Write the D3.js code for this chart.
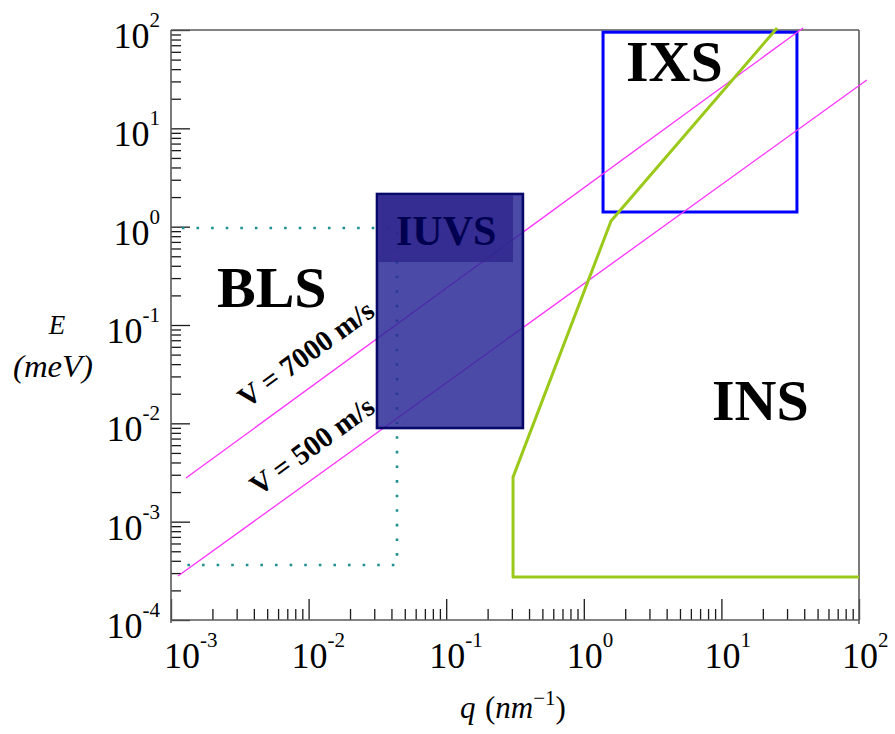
<!DOCTYPE html>
<html>
<head>
<meta charset="utf-8">
<script src="https://cdn.jsdelivr.net/npm/d3@7"></script>
<style>
html,body{margin:0;padding:0;background:#fff;}
svg{display:block;}
text{font-family:"Liberation Serif","Times New Roman",serif;}
</style>
</head>
<body>
<svg id="chart" width="895" height="734"></svg>
<script>
// ---- data ----
const qDecades = [1e-3, 1e-2, 1e-1, 1e0, 1e1, 1e2];
const qExponents = ["-3", "-2", "-1", "0", "1", "2"];
const eDecades = [1e-4, 1e-3, 1e-2, 1e-1, 1e0, 1e1, 1e2];
const eExponents = ["-4", "-3", "-2", "-1", "0", "1", "2"];

const ixsQ = [1.38, 35.4];
const ixsE = [1.41, 95];
const iuvsQ = [0.0314, 0.361];
const iuvsE = [0.00896, 2.15];
const iuvsHeadQ = [0.0314, 0.306];
const iuvsHeadE = [0.4375, 2.15];
const blsQ = [1.2e-3, 0.0439];
const blsE = [3.62e-4, 0.97];
const insQ = [100, 0.306, 0.306, 1.577, 25.4];
const insE = [2.73e-4, 2.73e-4, 2.84e-3, 1.14, 104.8];
const v7000Q = [1.285e-3, 39.2];
const v7000E = [2.78e-3, 104.8];
const v500Q = [1.124e-3, 114];
const v500E = [2.8e-4, 31.0];

const regionNames = ["IXS", "BLS", "INS", "IUVS"];
const velocityLabels = ["V = 7000 m/s", "V = 500 m/s"];

// ---- scales ----
const x = d3.scaleLog().domain([1e-3, 1e2]).range([171, 859]);
const y = d3.scaleLog().domain([1e-4, 1e2]).range([620, 30]);

const svg = d3.select("#chart");

// minor ticks
const minorQ = [], minorE = [];
qDecades.slice(0, -1).forEach(d => { for (let k = 2; k <= 9; k++) minorQ.push(d * k); });
eDecades.slice(0, -1).forEach(d => { for (let k = 2; k <= 9; k++) minorE.push(d * k); });

function styleAxis(g) {
  g.select(".domain").remove();
  g.selectAll(".tick line").attr("stroke", "#1a1a1a").attr("stroke-width", 1.3);
}
svg.append("g").attr("transform", "translate(171,0)")
  .call(d3.axisLeft(y).tickValues(minorE).tickSize(-10).tickFormat("")).call(styleAxis);
svg.append("g").attr("transform", "translate(171,0)")
  .call(d3.axisLeft(y).tickValues(eDecades).tickSize(-19).tickFormat("")).call(styleAxis);
svg.append("g").attr("transform", "translate(0,620)")
  .call(d3.axisBottom(x).tickValues(minorQ).tickSize(-11).tickFormat("")).call(styleAxis);
svg.append("g").attr("transform", "translate(0,620)")
  .call(d3.axisBottom(x).tickValues(qDecades).tickSize(-21).tickFormat("")).call(styleAxis);

// frame
const frame = svg.append("g").attr("stroke", "#5a5a5a").attr("stroke-width", 1.6).attr("fill", "none");
frame.append("line").attr("x1", x(1e-3)).attr("x2", x(1e-3)).attr("y1", y(1e2)).attr("y2", y(1e-4) + 3);
frame.append("line").attr("x1", x(1e-3)).attr("x2", x(1e2)).attr("y1", y(1e-4)).attr("y2", y(1e-4));
frame.append("line").attr("x1", x(1e-3)).attr("x2", x(1e2)).attr("y1", y(1e2)).attr("y2", y(1e2));
frame.append("line").attr("x1", x(1e2)).attr("x2", x(1e2)).attr("y1", y(1e2)).attr("y2", y(1e-4) + 4);

// tick labels
eDecades.forEach((d, i) => {
  const t = svg.append("text").attr("x", 160).attr("y", y(d) + 18)
    .attr("text-anchor", "end").attr("font-size", 36).attr("fill", "#000");
  t.append("tspan").text("10");
  t.append("tspan").attr("font-size", 21).attr("dy", -21).text(eExponents[i]);
});
qDecades.forEach((d, i) => {
  const t = svg.append("text").attr("x", Math.max(x(d) - 17, 164)).attr("y", 668)
    .attr("font-size", 36).attr("fill", "#000");
  t.append("tspan").text("10");
  t.append("tspan").attr("font-size", 21).attr("dy", -21).text(qExponents[i]);
});

// axis titles
svg.append("text").attr("x", 57).attr("y", 334).attr("text-anchor", "middle")
  .attr("font-style", "italic").attr("font-size", 27).text("E");
svg.append("text").attr("x", 13).attr("y", 377)
  .attr("font-style", "italic").attr("font-size", 31)
  .attr("textLength", 80).attr("lengthAdjust", "spacingAndGlyphs").text("(meV)");
svg.append("text").attr("x", 460).attr("y", 718).attr("font-style", "italic").attr("font-size", 31).text("q");
const qt = svg.append("text").attr("x", 485).attr("y", 718).attr("font-size", 31);
qt.append("tspan").text("(");
qt.append("tspan").attr("font-style", "italic").text("nm");
qt.append("tspan").attr("font-size", 21).attr("dy", -13).text("\u22121");
qt.append("tspan").attr("dy", 13).text(")");

// IXS box
svg.append("rect")
  .attr("x", x(ixsQ[0])).attr("y", y(ixsE[1]))
  .attr("width", x(ixsQ[1]) - x(ixsQ[0])).attr("height", y(ixsE[0]) - y(ixsE[1]))
  .attr("fill", "none").attr("stroke", "#0000ff").attr("stroke-width", 3);

// BLS dotted region
const line = d3.line().x(d => x(d[0])).y(d => y(d[1]));
svg.append("path")
  .attr("d", line([[blsQ[0], blsE[1]], [blsQ[1], blsE[1]], [blsQ[1], blsE[0]], [blsQ[0], blsE[0]]]))
  .attr("fill", "none").attr("stroke", "#1f8f8f").attr("stroke-width", 2.6)
  .attr("stroke-dasharray", "2.6,12");

// velocity lines
[[v7000Q, v7000E], [v500Q, v500E]].forEach(([qs, es]) => {
  svg.append("path").attr("d", line(qs.map((q, i) => [q, es[i]])))
    .attr("fill", "none").attr("stroke", "#ff33ff").attr("stroke-width", 1.3);
});

// INS boundary
svg.append("path").attr("d", line(insQ.map((q, i) => [q, insE[i]])))
  .attr("fill", "none").attr("stroke", "#9ac91a").attr("stroke-width", 3).attr("stroke-linejoin", "round");

// IUVS box
svg.append("rect")
  .attr("x", x(iuvsQ[0])).attr("y", y(iuvsE[1]))
  .attr("width", x(iuvsQ[1]) - x(iuvsQ[0])).attr("height", y(iuvsE[0]) - y(iuvsE[1]))
  .attr("fill", "rgb(40,40,150)").attr("fill-opacity", 0.84)
  .attr("stroke", "#08086a").attr("stroke-width", 2.6);
svg.append("rect")
  .attr("x", x(iuvsHeadQ[0]) + 1.5).attr("y", y(iuvsHeadE[1]) + 1.5)
  .attr("width", x(iuvsHeadQ[1]) - x(iuvsHeadQ[0]) - 1.5).attr("height", y(iuvsHeadE[0]) - y(iuvsHeadE[1]) - 1.5)
  .attr("fill", "rgb(48,38,140)").attr("fill-opacity", 0.8);

// region labels
const regionPos = [[626, 81, 58], [217, 307, 58], [712, 420, 58], [396, 245, 42]];
regionNames.forEach((n, i) => {
  svg.append("text").attr("x", regionPos[i][0]).attr("y", regionPos[i][1])
    .attr("font-size", regionPos[i][2]).attr("font-weight", "bold")
    .attr("fill", n === "IUVS" ? "#000050" : "#000").text(n);
});

// velocity labels
const velPos = [[306, 354], [312, 446]];
velocityLabels.forEach((s, i) => {
  svg.append("text")
    .attr("transform", `translate(${velPos[i][0]},${velPos[i][1]}) rotate(-36)`)
    .attr("text-anchor", "middle").attr("dy", "0.33em")
    .attr("font-size", 29).attr("font-weight", "bold").text(s);
});
</script>
</body>
</html>
